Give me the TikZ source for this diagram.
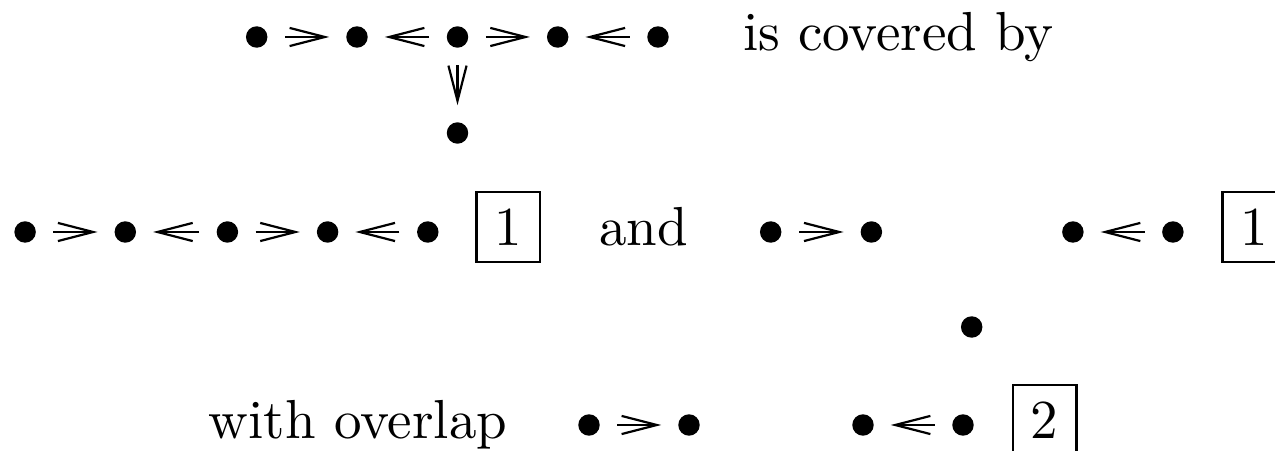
\documentclass[tikz,border=0pt]{standalone}
\usetikzlibrary{arrows.meta}
\begin{document}
\begin{tikzpicture}[x=0.1818pt,y=-0.1818pt,
  dot/.style={circle,fill=black,inner sep=0pt,minimum size=3.9pt},
  arr/.style={line width=0.4pt,-{Straight Barb[length=6.4pt,width=3.3pt,line width=0.4pt]},shorten >=2.9pt,shorten <=3.0pt},
  lbl/.style={anchor=base,inner sep=0pt},
  numbox/.style={draw,line width=0.4pt,minimum width=11.6pt,minimum height=12.7pt,inner sep=0pt}]
\useasboundingbox (0,0) rectangle (1275,451);
% top row
\node[dot] (t1) at (256.7,37) {};
\node[dot] (t2) at (357,37) {};
\node[dot] (t3) at (457.5,37) {};
\node[dot] (t4) at (557.7,37) {};
\node[dot] (t5) at (658,37) {};
\node[dot] (t6) at (457.5,133) {};
\draw[arr] (t1) -- (t2);
\draw[arr] (t3) -- (t2);
\draw[arr] (t3) -- (t4);
\draw[arr] (t5) -- (t4);
\draw[arr] (t3) -- (t6);
\node[lbl] (txt1) at (898.5,51) {is covered by};
% middle row
\node[dot] (m1) at (25.1,232) {};
\node[dot] (m2) at (125.3,232) {};
\node[dot] (m3) at (227.4,232) {};
\node[dot] (m4) at (327.6,232) {};
\node[dot] (m5) at (427.8,232) {};
\draw[arr] (m1) -- (m2);
\draw[arr] (m3) -- (m2);
\draw[arr] (m3) -- (m4);
\draw[arr] (m5) -- (m4);
\node[numbox] (b1) at (508.3,227) {1};
\node[lbl] (txt2) at (643.5,246) {and};
\node[dot] (r1) at (770.7,232) {};
\node[dot] (r2) at (871.4,232) {};
\draw[arr] (r1) -- (r2);
\node[dot] (r3) at (1072.9,232) {};
\node[dot] (r4) at (1172.9,232) {};
\draw[arr] (r4) -- (r3);
\node[numbox] (b2) at (1254.3,227) {1};
% lower part
\node[dot] (s1) at (971.7,327) {};
\node[lbl] (txt3) at (358,439) {with overlap};
\node[dot] (u1) at (589,425) {};
\node[dot] (u2) at (689,425) {};
\draw[arr] (u1) -- (u2);
\node[dot] (u3) at (863,425) {};
\node[dot] (u4) at (963,425) {};
\draw[arr] (u4) -- (u3);
\node[numbox] (b3) at (1044.5,420) {2};
\end{tikzpicture}
\end{document}
